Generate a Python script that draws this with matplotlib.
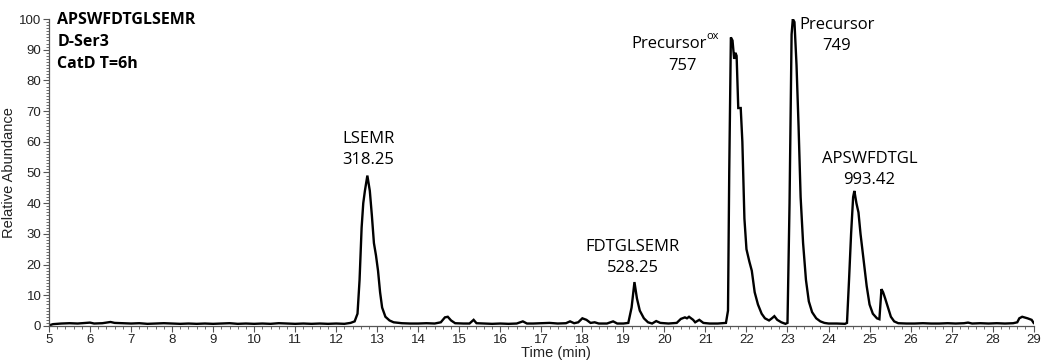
import matplotlib
matplotlib.use('Agg')
import matplotlib.pyplot as plt
from matplotlib.ticker import MultipleLocator

# chromatogram trace: retention time (min) vs relative abundance (%)
time_min = [5.0, 5.1, 5.3, 5.5, 5.7, 5.9, 6.0, 6.1, 6.3, 6.5, 6.6, 6.8, 7.0, 7.2, 7.4, 7.6, 7.8, 8.0,
             8.2, 8.4, 8.6, 8.8, 9.0, 9.2, 9.4, 9.6, 9.8, 10.0, 10.2, 10.4, 10.6, 10.8, 11.0, 11.2,
             11.4, 11.6, 11.8, 12.0, 12.2, 12.35, 12.45,
             12.52, 12.57, 12.62, 12.66, 12.7, 12.76, 12.82, 12.87, 12.92, 12.97, 13.02, 13.07,
             13.12, 13.2, 13.3, 13.4, 13.6, 13.8, 14.0, 14.2, 14.4, 14.55, 14.65, 14.72, 14.8,
             14.9, 15.1, 15.25, 15.35, 15.42, 15.6, 15.8, 16.0, 16.2, 16.4, 16.55, 16.65, 16.8,
             17.0, 17.2, 17.4, 17.6, 17.7, 17.8, 17.9, 18.0, 18.1, 18.2, 18.3, 18.4, 18.6, 18.75,
             18.85, 19.0, 19.12, 19.2, 19.27, 19.33, 19.4, 19.5, 19.6, 19.7, 19.8, 19.9, 20.1,
             20.3, 20.4, 20.5, 20.55, 20.6, 20.7, 20.75, 20.85, 20.95, 21.1, 21.3, 21.5,
             21.55, 21.58, 21.62, 21.66, 21.7, 21.73, 21.76, 21.78, 21.8, 21.86, 21.9, 21.95,
             22.0, 22.07, 22.13, 22.2, 22.28, 22.37, 22.45, 22.55, 22.62, 22.68, 22.75, 22.85,
             22.95, 23.0,
             23.05, 23.1, 23.13, 23.17, 23.22, 23.27, 23.32, 23.38, 23.45, 23.52, 23.6, 23.7,
             23.8, 23.9, 24.0, 24.2, 24.4,
             24.45, 24.5, 24.55, 24.6, 24.63, 24.68, 24.73, 24.78, 24.85, 24.93, 25.0, 25.08,
             25.18, 25.24, 25.29, 25.33, 25.38, 25.45, 25.52, 25.6, 25.7, 25.9, 26.1, 26.3, 26.5,
             26.7, 26.9, 27.1, 27.3, 27.4, 27.5, 27.7, 27.9, 28.1, 28.3, 28.5, 28.6, 28.65,
             28.72, 28.85, 28.95, 29.0]
abundance = [0.2, 0.6, 0.8, 0.9, 0.8, 1.0, 1.1, 0.8, 0.9, 1.3, 1.0, 0.9, 0.8, 0.9, 0.7, 0.8, 0.9, 0.8,
             0.7, 0.8, 0.7, 0.8, 0.7, 0.8, 0.9, 0.7, 0.8, 0.7, 0.8, 0.7, 0.9, 0.8, 0.7, 0.8,
             0.7, 0.8, 0.7, 0.8, 0.7, 1.0, 1.5,
             4.0, 15.0, 32.0, 40.0, 44.0, 49.0, 44.0, 36.0, 27.0, 23.0, 18.0, 11.0,
             6.0, 3.0, 1.8, 1.2, 0.9, 0.8, 0.8, 0.9, 0.8, 1.2, 2.8, 3.0, 1.8,
             0.9, 0.8, 0.8, 2.0, 0.9, 0.8, 0.7, 0.8, 0.7, 0.8, 1.5, 0.8, 0.8,
             0.9, 1.0, 0.8, 0.9, 1.5, 0.9, 1.2, 2.5, 2.0, 1.0, 1.2, 0.8, 0.8, 1.5,
             0.8, 0.8, 1.0, 6.0, 14.3, 9.0, 5.0, 2.5, 1.2, 0.8, 1.6, 1.0, 0.8,
             1.0, 2.3, 2.8, 2.5, 3.0, 2.0, 1.2, 2.0, 1.0, 0.8, 0.8, 1.0,
             5.0, 50.0, 94.0, 93.0, 87.0, 89.0, 88.0, 80.0, 71.0, 71.0, 60.0, 35.0,
             25.0, 21.0, 18.0, 11.0, 7.0, 4.0, 2.5, 1.8, 2.5, 3.2, 2.0, 1.2,
             0.7, 1.0,
             40.0, 95.0, 100.0, 99.0, 85.0, 65.0, 42.0, 27.0, 15.0, 8.0, 4.5, 2.5,
             1.5, 1.0, 0.8, 0.8, 0.7,
             1.0, 15.0, 30.0, 42.0, 44.0, 40.0, 37.0, 30.0, 22.0, 13.0, 7.0, 4.0,
             2.5, 2.2, 12.0, 11.0, 9.0, 6.0, 3.0, 1.5, 0.9, 0.8, 0.8, 0.9, 0.8,
             0.8, 0.9, 0.8, 0.9, 1.1, 0.8, 0.9, 0.8, 0.9, 0.8, 0.9, 1.2, 2.5,
             3.0, 2.5, 2.0, 1.0]

# peak labels: (text, x, y)
peak_labels = [('LSEMR\n318.25', 12.78, 57.6),
               ('FDTGLSEMR\n528.25', 19.23, 22.2),
               ('Precursor\n749', 24.2, 94.5),
               ('APSWFDTGL\n993.42', 25.0, 51.0)]
sample_info = ['APSWFDTGLSEMR', 'D-Ser3', 'CatD T=6h']

fig = plt.figure(figsize=(10.42, 3.62), dpi=100)
ax = fig.add_axes([0.047, 0.0995, 0.945, 0.848])

ax.plot(time_min, abundance, color='black', lw=1.7, solid_joinstyle='miter')

ax.set_xlim(5, 29)
ax.set_ylim(0, 100)
ax.xaxis.set_major_locator(MultipleLocator(1))
ax.xaxis.set_minor_locator(MultipleLocator(0.2))
ax.yaxis.set_major_locator(MultipleLocator(10))
ax.yaxis.set_minor_locator(MultipleLocator(1))

for s in ['top', 'right']:
    ax.spines[s].set_visible(False)
for s in ['left', 'bottom']:
    ax.spines[s].set_color('#555555')
    ax.spines[s].set_linewidth(0.9)

ax.tick_params(which='major', length=4, width=0.8, color='#555555', labelsize=9.5,
               labelcolor='#222222', pad=1.5)
ax.tick_params(which='minor', length=2, width=0.6, color='#555555')
for lab in ax.get_xticklabels() + ax.get_yticklabels():
    lab.set_family('Liberation Sans')

ax.set_xlabel('Time (min)', family='Liberation Sans', fontsize=10.5, color='#222222')
ax.xaxis.set_label_coords(0.515, -0.065)
ax.set_ylabel('Relative Abundance', family='Liberation Sans', fontsize=10.5, color='#222222')
ax.yaxis.set_label_coords(-0.033, 0.5)

for txt, x, y in peak_labels:
    ax.text(x, y, txt, ha='center', va='center', fontsize=12, family='Open Sans',
            linespacing=1.4)

# oxidised precursor label, small raised "ox"
ax.text(21.02, 92, 'Precursor', ha='right', va='center', fontsize=12, family='Open Sans')
ax.text(21.03, 94.2, 'ox', ha='left', va='center', fontsize=8, family='Open Sans')
ax.text(20.45, 84.8, '757', ha='center', va='center', fontsize=12, family='Open Sans')

for i, line in enumerate(sample_info):
    fig.text(0.055, 0.945 - i * 0.061, line, ha='left', va='center', fontsize=11.5,
             fontweight='bold', family='Open Sans')

fig.savefig('out.png', dpi=100)
